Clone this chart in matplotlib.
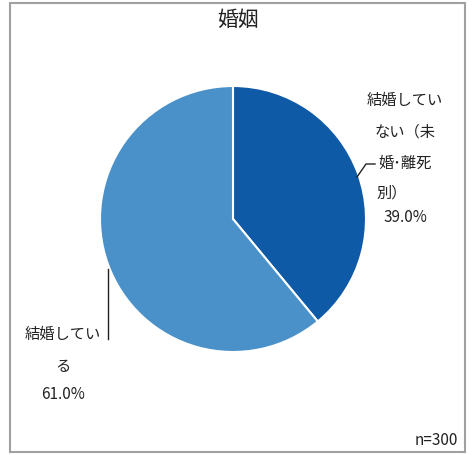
import matplotlib
matplotlib.use("Agg")
import matplotlib.pyplot as plt
from matplotlib.patches import Rectangle
from matplotlib.lines import Line2D

plt.rcParams['font.family'] = ['Noto Sans CJK JP', 'DejaVu Sans']

title = "婚姻"
categories = ["結婚していない（未婚・離死別）", "結婚している"]
values = [39.0, 61.0]
colors = ["#0e5aa7", "#4b91c9"]
note = "n=300"

W, H = 476, 456
fig = plt.figure(figsize=(W / 100, H / 100), dpi=100)

def fx(px):
    return px / W

def fy(py):
    return 1 - py / H

# frame
fig.add_artist(Rectangle((fx(10), fy(453)), fx(465) - fx(10), fy(4) - fy(453),
                         transform=fig.transFigure, fill=False,
                         edgecolor="#a0a0a0", linewidth=1.5))

cx, cy, r = 233, 220, 133
ax = fig.add_axes([fx(cx - r), fy(cy + r), 2 * r / W, 2 * r / H])
ax.pie(values, colors=colors, startangle=90, counterclock=False,
       wedgeprops=dict(edgecolor="white", linewidth=1.5))
ax.set_aspect("auto")
ax.set_xlim(-1, 1)
ax.set_ylim(-1, 1)
ax.axis("off")

fig.text(fx(238), fy(20), title, ha="center", va="center", fontsize=15, color="#222222")

# right label
right_lines = ["結婚してい", "ない（未", "婚･離死", "別）", f"{values[0]:.1f}%"]
right_y = [100, 132, 163, 193, 218]
right_x = [405, 405, 405, 392, 405]
for t, yy, xx in zip(right_lines, right_y, right_x):
    fig.text(fx(xx), fy(yy), t, ha="center", va="center", fontsize=11, color="#222222")

# left label
left_lines = ["結婚してい", "る", f"{values[1]:.1f}%"]
left_y = [334, 366, 395]
for t, yy in zip(left_lines, left_y):
    fig.text(fx(63), fy(yy), t, ha="center", va="center", fontsize=11, color="#222222")

# leader lines
fig.add_artist(Line2D([fx(357), fx(366), fx(375)], [fy(178), fy(165), fy(165)],
                      transform=fig.transFigure, color="#222222", linewidth=1))
fig.add_artist(Line2D([fx(108), fx(108)], [fy(270), fy(340)],
                      transform=fig.transFigure, color="#222222", linewidth=1))

fig.text(fx(458), fy(441), note, ha="right", va="center", fontsize=11, color="#222222")

fig.savefig("out.png", dpi=100)
